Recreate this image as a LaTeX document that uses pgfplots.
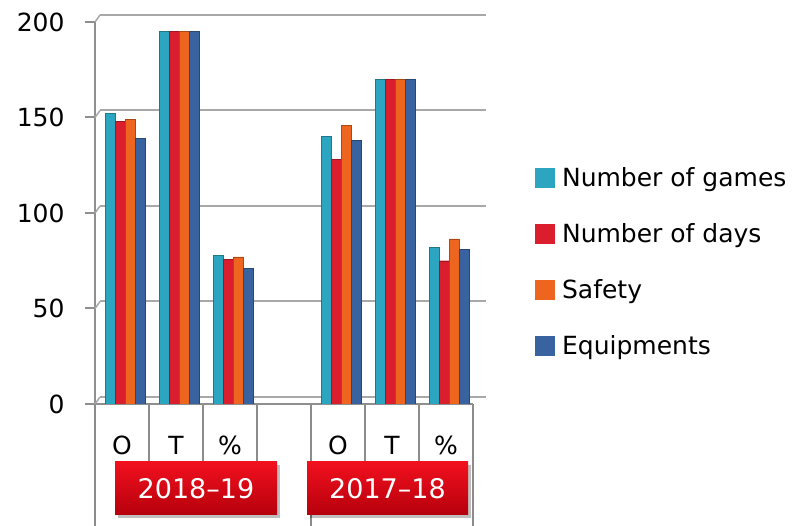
\documentclass[border=0pt]{standalone}
\usepackage{fontspec}
\setmainfont{DejaVu Sans}
\usepackage{pgfplots}
\usepackage{pgfplotstable}
\pgfplotsset{compat=1.18}

\definecolor{cGames}{HTML}{2CA5C0}
\definecolor{cDays}{HTML}{DA1E2D}
\definecolor{cSafety}{HTML}{EE651F}
\definecolor{cEquip}{HTML}{3862A0}
\definecolor{gridc}{HTML}{A8A8A8}
\definecolor{sepc}{HTML}{8C8C8C}
\definecolor{boxtop}{HTML}{F2101E}
\definecolor{boxbot}{HTML}{B5000C}

\newcommand\lbl{\fontsize{25bp}{29bp}\selectfont}
\newcommand\boxfont{\fontsize{27bp}{31bp}\selectfont}

% O = observed, T = total, % = share; columns = series
\pgfplotstableread{
x games days safety equip
0 152 148 149 139
1 195 195 195 195
2 78 75.6 77 71
4 140 128 146 138
5 170 170 170 170
6 82 75 86.5 81
}\data

\pgfplotsset{
  bar3d/.style={fill=#1, draw=#1!72!black, line width=0.4bp,
    legend image code/.code={\fill[#1] (0bp,-9.25bp) rectangle (18.5bp,9.25bp);
      \path (24.5bp,0bp);}},
}

\begin{document}
\begin{tikzpicture}[x=1bp, y=1bp]
\path[use as bounding box] (0,0) rectangle (796,526);

% separators of the category axis
\foreach \x in {149.3,203.3,257,365,419.3}
  \draw[sepc, line width=1.8bp] (\x,122) -- (\x,56);
\foreach \x in {95,311,473}
  \draw[sepc, line width=1.8bp] (\x,122) -- (\x,0);

% right ends of the back wall grid
\foreach \v in {0,50,100,150,200}
  \draw[gridc, line width=2bp] (477,{129+\v*1.91}) -- (486,{129+\v*1.91});

\begin{axis}[
  at={(95bp,122bp)}, anchor=south west,
  scale only axis, width=378bp, height=382bp,
  xmin=-0.5, xmax=6.5, ymin=0, ymax=200,
  ybar=0pt, bar width=10bp,
  separate axis lines,
  axis x line*=bottom, axis y line*=left,
  axis line style={gridc!85!black, line width=2bp, -},
  xtick={0,1,2,4,5,6},
  xticklabels={O,T,\%,O,T,\%},
  x tick style={draw=none},
  ytick={0,50,...,200},
  tick align=outside, major tick length=10bp,
  y tick style={gridc!85!black, line width=2bp},
  tick label style={font=\lbl},
  /pgf/number format/assume math mode=true,
  yticklabel style={xshift=-17bp},
  xticklabel style={anchor=center, yshift=-31bp},
  ymajorgrids,
  major grid style={gridc, line width=2bp, xshift=5bp, yshift=7bp},
  legend style={at={(axis description cs:1.164,0.625)}, anchor=north west,
    draw=none, fill=none, font=\lbl, row sep=31.5bp, inner sep=0pt},
  legend cell align=left,
]
\addplot[bar3d=cGames, bar shift=-12bp] table[x=x, y=games]{\data};
\addlegendentry{Number of games}
\addplot[bar3d=cDays, bar shift=-2bp] table[x=x, y=days]{\data};
\addlegendentry{Number of days}
\addplot[bar3d=cSafety, bar shift=8bp] table[x=x, y=safety]{\data};
\addlegendentry{Safety}
\addplot[bar3d=cEquip, bar shift=18bp] table[x=x, y=equip]{\data};
\addlegendentry{Equipments}
\end{axis}

% small 3-d edges from the ticks to the back wall
\foreach \v in {0,50,100,150,200}
  \draw[gridc, line width=1.5bp] (95,{122+\v*1.91}) -- (100,{129+\v*1.91});

% group labels
\foreach \a/\b/\t in {115/277/2018--19, 307/468/2017--18} {
  \fill[black, opacity=0.25] (\a+3,8) rectangle (\b+3,61);
  \shade[top color=boxtop, bottom color=boxbot] (\a,11) rectangle (\b,64);
  \node[white, font=\boxfont] at ({(\a+\b)/2},37.5) {\t};
}
\end{tikzpicture}
\end{document}
